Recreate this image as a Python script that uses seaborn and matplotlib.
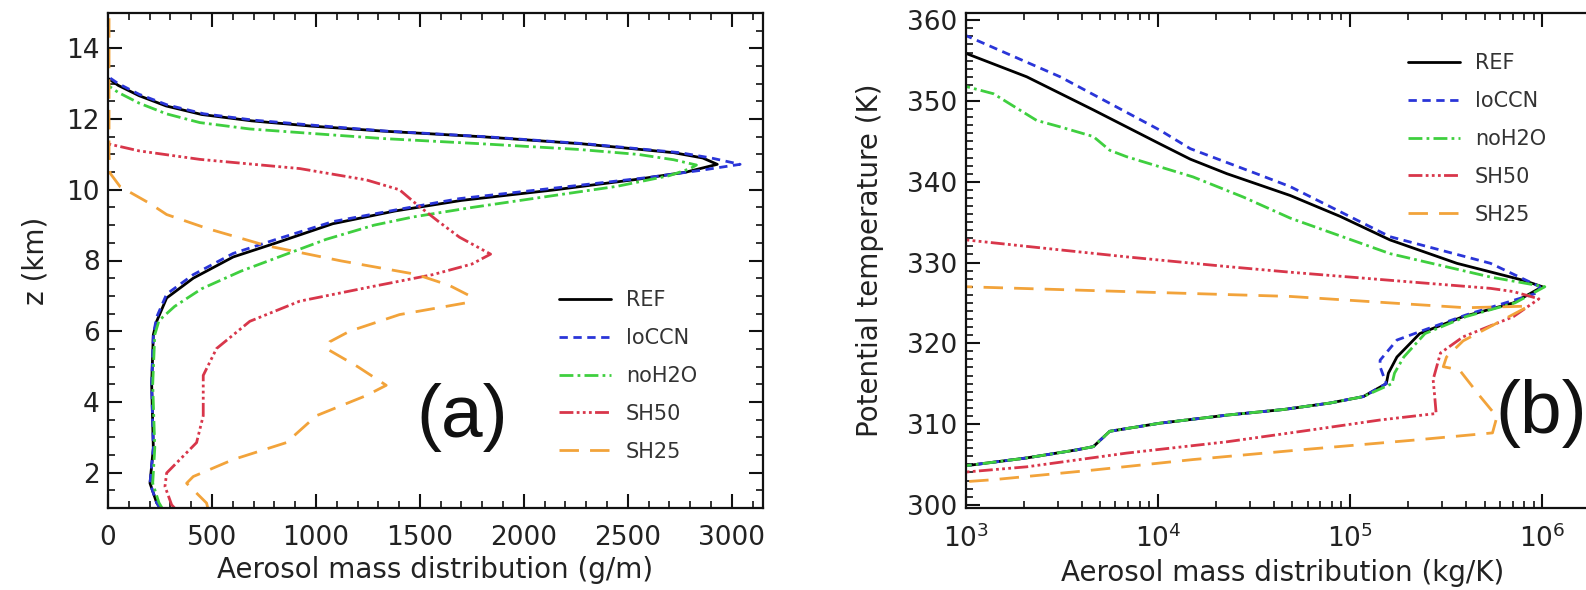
import matplotlib
matplotlib.use("Agg")
import matplotlib.pyplot as plt
from matplotlib.ticker import MultipleLocator
import seaborn as sns

# ---- panel (a): aerosol mass vs height ----
z_ref_a = [1.0, 1.15, 1.7, 2.7, 4.5, 5.9, 6.28, 6.94, 7.5, 8.1, 8.5, 9.04, 9.4, 9.7, 10.0, 10.3,
           10.5, 10.72, 10.9, 11.05, 11.3, 11.5, 11.66, 11.8, 11.95, 12.13, 12.37, 12.66, 12.95, 13.15]
m_ref_a = [250, 234, 202, 218, 210, 218, 234, 282, 410, 602, 810, 1081, 1380, 1700, 2150, 2550,
           2780, 2930, 2860, 2720, 2280, 1800, 1320, 980, 690, 450, 280, 150, 50, 0]

z_loccn_a = [1.0, 1.15, 1.7, 2.7, 4.5, 5.9, 6.4, 7.05, 7.6, 8.2, 8.6, 9.1, 9.45, 9.75, 10.05, 10.35,
             10.55, 10.72, 10.9, 11.05, 11.3, 11.5, 11.66, 11.82, 11.97, 12.15, 12.4, 12.7, 13.0, 13.2]
m_loccn_a = [250, 234, 202, 218, 210, 218, 234, 282, 410, 602, 810, 1081, 1402, 1690, 2150, 2600,
             2850, 3040, 2900, 2750, 2300, 1820, 1340, 1000, 700, 460, 285, 150, 50, 0]

z_noh2o_a = [1.0, 1.15, 1.7, 2.7, 4.5, 5.9, 6.3, 6.7, 7.2, 7.7, 8.18, 8.6, 9.0, 9.23, 9.5, 9.8,
             10.1, 10.4, 10.6, 10.7, 10.85, 11.0, 11.14, 11.3, 11.45, 11.55, 11.72, 11.9, 12.15,
             12.45, 12.75, 12.95]
m_noh2o_a = [260, 245, 215, 225, 215, 225, 245, 320, 450, 640, 858, 1050, 1280, 1466, 1750, 2100,
             2450, 2700, 2800, 2830, 2720, 2550, 2266, 1800, 1320, 1081, 682, 442, 280,
             150, 50, 0]

z_sh50_a = [1.0, 1.09, 1.61, 1.99, 2.85, 3.61, 4.75, 5.51, 6.28, 6.85, 7.23, 7.6, 7.9, 8.18,
            8.66, 9.1, 9.6, 10.0, 10.28, 10.6, 10.86, 11.1, 11.3]
m_sh50_a = [320, 306, 274, 282, 426, 458, 458, 522, 682, 922, 1242, 1562, 1750, 1840,
            1690, 1590, 1482, 1402, 1242, 922, 442, 150, 0]

z_sh25_a = [1.0, 1.14, 1.7, 1.89, 2.37, 2.85, 3.61, 4.18, 4.47, 5.0, 5.51, 5.7, 6.0, 6.47, 6.8,
            7.0, 7.3, 7.61, 7.99, 8.42, 8.9, 9.3, 9.61, 10.09, 10.47, 11.0, 15.0]
m_sh25_a = [480, 474, 378, 410, 602, 858, 1002, 1242, 1338, 1200, 1050, 1066, 1162, 1402, 1720,
            1740, 1640, 1480, 1120, 762, 480, 282, 202, 58, 10, 5, 5]

# ---- panel (b): aerosol mass vs potential temperature ----
th_ref_b = [304.0, 304.9, 305.8, 306.8, 307.2, 309.1, 310.1, 311.1, 311.8, 312.6, 313.4, 315.0,
            316.3, 318.3, 321.2, 323.3, 325.0, 327.0, 327.8, 329.9, 332.8, 335.7, 338.3, 341.0,
            342.8, 344.7, 348.9, 353.0, 355.9, 357.0]
m_ref_b = [500, 1.05e3, 2.07e3, 3.77e3, 4.6e3, 5.6e3, 10.2e3, 22.8e3, 45e3, 78.5e3, 117e3, 154e3,
           158e3, 175e3, 230e3, 387e3, 707e3, 1.0e6, 795e3, 359e3, 161e3, 88.9e3, 48.7e3, 22.8e3,
           14.7e3, 10.2e3, 4.6e3, 2.07e3, 1.0e3, 700]

th_loccn_b = [304.0, 304.9, 305.8, 306.8, 307.2, 309.1, 310.1, 311.1, 311.8, 312.6, 313.4, 315.0,
              317.1, 317.9, 320.4, 321.6, 323.5, 325.5, 326.2, 327.0, 329.9, 333.2, 339.4, 341.0,
              344.1, 346.4, 353.0, 358.1, 359.0]
m_loccn_b = [500, 1.05e3, 2.07e3, 3.77e3, 4.6e3, 5.6e3, 10.2e3, 22.8e3, 45e3, 78.5e3, 117e3, 154e3,
             143e3, 143e3, 175e3, 240e3, 400e3, 750e3, 930e3, 970e3, 537e3, 161e3, 48.7e3, 32.5e3,
             14.7e3, 10.2e3, 3.09e3, 1.0e3, 700]

th_noh2o_b = [304.0, 304.9, 305.8, 306.8, 307.2, 309.1, 310.1, 311.1, 311.8, 312.6, 313.4, 315.0,
              316.3, 318.3, 321.2, 323.3, 325.0, 327.0, 328.2, 331.1, 335.5, 338.1, 340.6, 343.1,
              343.9, 345.6, 346.8, 347.6, 350.9, 351.8, 352.5]
m_noh2o_b = [500, 1.05e3, 2.07e3, 3.77e3, 4.6e3, 5.6e3, 10.2e3, 22.8e3, 45e3, 78.5e3, 117e3, 165e3,
             170e3, 190e3, 245e3, 400e3, 720e3, 1.03e6, 537e3, 161e3, 48.7e3, 27.8e3, 15.2e3, 6.86e3,
             5.6e3, 4.6e3, 3.09e3, 2.33e3, 1.39e3, 1.0e3, 700]

th_sh50_b = [303.3, 304.1, 304.7, 306.4, 307.8, 308.9, 309.3, 310.5, 311.3, 313.5, 315.5, 318.8,
             320.8, 323.3, 325.5, 326.4, 326.8, 327.8, 328.8, 329.5, 330.7, 332.0, 332.8, 333.3]
m_sh50_b = [500, 1.05e3, 2.07e3, 6.86e3, 22.8e3, 48.7e3, 64e3, 143e3, 280e3, 275e3, 270e3, 295e3,
            387e3, 707e3, 960e3, 707e3, 537e3, 161e3, 48.7e3, 22.8e3, 6.86e3, 2.07e3, 1.0e3, 600]

th_sh25_b = [302.4, 302.9, 303.1, 304.3, 305.6, 306.8, 308.0, 308.9, 310.9, 313.4, 316.7, 317.1,
             318.3, 320.3, 322.5, 324.6, 324.4, 325.0, 325.8, 326.4, 327.0, 327.4]
m_sh25_b = [500, 1.05e3, 1.38e3, 4.6e3, 15.2e3, 55e3, 213e3, 550e3, 580e3, 475e3, 370e3, 305e3,
            317e3, 387e3, 580e3, 850e3, 400e3, 161e3, 48.7e3, 6.86e3, 1.0e3, 600]

labels = ["REF", "loCCN", "noH2O", "SH50", "SH25"]
colors = ["black", "#2a35d8", "#3fcf3f", "#d8364a", "#f2a33a"]
styles = ["-", (0, (3, 2)), (0, (5, 1.5, 1, 1.5)), (0, (5, 1.2, 1, 1.2, 1, 1.2, 1, 1.2)), (0, (7, 4))]

sns.set_style("ticks")
plt.rcParams["font.family"] = ["DejaVu Sans"]
plt.rcParams["mathtext.fontset"] = "dejavusans"

W, H = 1586, 590
fig = plt.figure(figsize=(W / 100, H / 100), dpi=100)
ax1 = fig.add_axes([108 / W, 82 / H, 655 / W, 495 / H])
ax2 = fig.add_axes([966 / W, 82 / H, 634 / W, 495 / H])

series_a = [(m_ref_a, z_ref_a), (m_loccn_a, z_loccn_a), (m_noh2o_a, z_noh2o_a),
            (m_sh50_a, z_sh50_a), (m_sh25_a, z_sh25_a)]
series_b = [(m_ref_b, th_ref_b), (m_loccn_b, th_loccn_b), (m_noh2o_b, th_noh2o_b),
            (m_sh50_b, th_sh50_b), (m_sh25_b, th_sh25_b)]

for ax, series in [(ax1, series_a), (ax2, series_b)]:
    for (xs, ys), lab, c, ls in zip(series, labels, colors, styles):
        sns.lineplot(x=xs, y=ys, ax=ax, sort=False, estimator=None, color=c,
                     linestyle=ls, lw=2.0, label=lab)

ax1.set_xlim(0, 3150)
ax1.set_ylim(1, 15)
ax1.xaxis.set_major_locator(MultipleLocator(500))
ax1.xaxis.set_minor_locator(MultipleLocator(100))
ax1.yaxis.set_major_locator(MultipleLocator(2))
ax1.yaxis.set_minor_locator(MultipleLocator(0.5))
ax1.set_xlabel("Aerosol mass distribution (g/m)", fontsize=20, color="#222")
ax1.set_ylabel("z (km)", fontsize=20, color="#222", labelpad=12)

ax2.set_xscale("log")
ax2.set_xlim(1e3, 10 ** 6.3)
ax2.set_ylim(299.6, 360.9)
ax2.yaxis.set_major_locator(MultipleLocator(10))
ax2.yaxis.set_minor_locator(MultipleLocator(1))
ax2.set_xlabel("Aerosol mass distribution (kg/K)", fontsize=20, color="#222")
ax2.set_ylabel("Potential temperature (K)", fontsize=20, color="#222", labelpad=17)

for ax in (ax1, ax2):
    ax.tick_params(which="both", direction="in", top=True, right=True, colors="#111",
                   labelcolor="#222", labelsize=19)
    ax.tick_params(which="major", length=10, width=1.5)
    ax.tick_params(which="minor", length=5, width=1.2)
    ax.tick_params(axis="x", pad=12)
    ax.tick_params(axis="y", pad=6)
    for sp in ax.spines.values():
        sp.set_linewidth(1.6)
        sp.set_color("#111")

leg_kw = dict(frameon=False, fontsize=15, handlelength=2.5, handletextpad=0.7,
              labelspacing=0.86, borderaxespad=0, borderpad=0, loc="upper left",
              bbox_transform=fig.transFigure)
leg1 = ax1.legend(bbox_to_anchor=(559 / W, 1 - 290 / H), **leg_kw)
leg2 = ax2.legend(bbox_to_anchor=(1408 / W, 1 - 53 / H), **leg_kw)
for leg in (leg1, leg2):
    for t in leg.get_texts():
        t.set_color("#333")

fig.text(462 / W, 1 - 417 / H, "(a)", fontsize=54, ha="center", va="center", color="#111",
         family="Liberation Sans")
fig.text(1541 / W, 1 - 413 / H, "(b)", fontsize=54, ha="center", va="center", color="#111",
         family="Liberation Sans")

fig.savefig("out.png", dpi=100)
